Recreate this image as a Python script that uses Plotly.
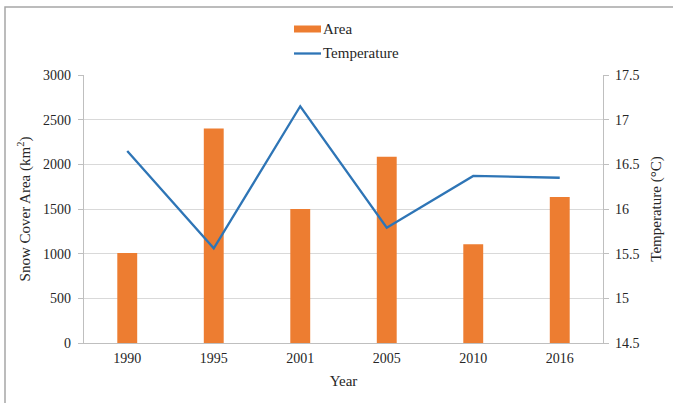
import plotly.graph_objects as go

# Snow cover area and mean temperature by year
years = ["1990", "1995", "2001", "2005", "2010", "2016"]
area_km2 = [1008, 2400, 1500, 2085, 1105, 1635]
temperature_c = [16.65, 15.56, 17.15, 15.79, 16.37, 16.35]

W, H = 673, 403
ML, MR, MT, MB = 84, 70, 75, 60
PW, PH = W - ML - MR, H - MT - MB

FONT = "'Liberation Serif', 'Times New Roman', serif"
ORANGE = "#ED7D31"
BLUE = "#2E75B6"
GRID = "#d9d9d9"
AXIS = "#bfbfbf"
TEXT = "#262626"


def px_x(x):
    return (x - ML) / PW


def px_y(y):
    return (H - MB - y) / PH


fig = go.Figure()
fig.add_trace(go.Bar(x=years, y=area_km2, name="Area", marker_color=ORANGE,
                     marker_line_width=0, showlegend=False))
fig.add_trace(go.Scatter(x=years, y=temperature_c, name="Temperature", yaxis="y2",
                         mode="lines", line=dict(color=BLUE, width=2.3),
                         showlegend=False))

shapes = [
    # outer frame (left and top edges visible)
    dict(type="rect", xref="paper", yref="paper", x0=px_x(5), x1=px_x(720),
         y0=px_y(440), y1=px_y(7), line=dict(color="#a6a6a6", width=1.5),
         fillcolor="rgba(0,0,0,0)", layer="below"),
    # legend swatches
    dict(type="rect", xref="paper", yref="paper", x0=px_x(294), x1=px_x(321),
         y0=px_y(32.5), y1=px_y(25.5), line=dict(width=0), fillcolor=ORANGE),
    dict(type="line", xref="paper", yref="paper", x0=px_x(294), x1=px_x(321),
         y0=px_y(53.5), y1=px_y(53.5), line=dict(color=BLUE, width=2.3)),
]

annotations = [
    dict(text="Area", xref="paper", yref="paper", x=px_x(321), y=px_y(29),
         xanchor="left", yanchor="middle", showarrow=False,
         font=dict(family=FONT, size=15, color=TEXT)),
    dict(text="Temperature", xref="paper", yref="paper", x=px_x(321), y=px_y(53),
         xanchor="left", yanchor="middle", showarrow=False,
         font=dict(family=FONT, size=15, color=TEXT)),
]

fig.update_layout(
    width=W, height=H,
    margin=dict(l=ML, r=MR, t=MT, b=MB),
    paper_bgcolor="white", plot_bgcolor="white",
    font=dict(family=FONT, size=14, color=TEXT),
    bargap=0.77,
    shapes=shapes, annotations=annotations,
    xaxis=dict(type="category", showline=True, linecolor=AXIS, linewidth=1.3,
               ticks="", showgrid=False, ticklabelstandoff=2,
               tickfont=dict(family=FONT, size=14, color=TEXT),
               title=dict(text="Year", standoff=10,
                          font=dict(family=FONT, size=15, color=TEXT))),
    yaxis=dict(range=[0, 3000], dtick=500, showgrid=True, gridcolor=GRID, gridwidth=1.3,
               showline=True, linecolor=AXIS, linewidth=1.3, zeroline=False,
               ticks="outside", ticklen=5, tickcolor=AXIS, ticklabelstandoff=4,
               tickfont=dict(family=FONT, size=14, color=TEXT),
               title=dict(text="Snow Cover Area (km<sup>2</sup>)", standoff=8,
                          font=dict(family=FONT, size=15, color=TEXT))),
    yaxis2=dict(range=[14.5, 17.5], dtick=0.5, overlaying="y", side="right",
                showgrid=False, showline=True, linecolor=AXIS, linewidth=1.3,
                zeroline=False, ticks="outside", ticklen=5, tickcolor=AXIS,
                ticklabelstandoff=3,
                tickfont=dict(family=FONT, size=14, color=TEXT),
                title=dict(text="Temperature (°C)", standoff=12,
                           font=dict(family=FONT, size=15, color=TEXT))),
)

fig.write_html("out.html")
